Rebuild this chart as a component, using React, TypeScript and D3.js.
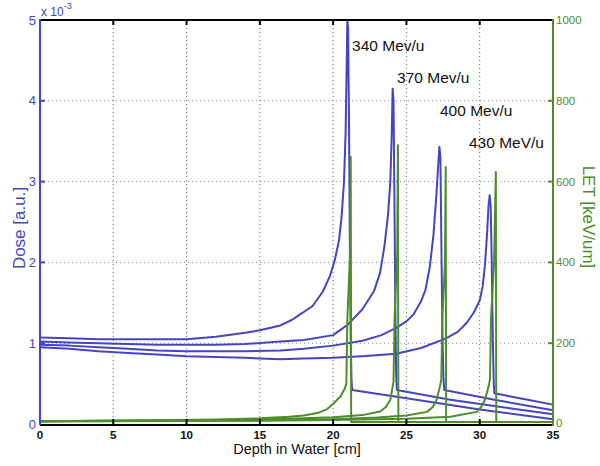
import React from "react";
import * as d3 from "d3";

// ---- data (depth in cm, dose in 1e-3 a.u., LET in keV/um) ----
const depthTicks = [0, 5, 10, 15, 20, 25, 30, 35];
const doseTicks = [0, 1, 2, 3, 4, 5];
const letTicks = [0, 200, 400, 600, 800, 1000];

const dose340: [number, number][] = [
  [0, 1.07], [2, 1.06], [4, 1.05], [6, 1.05], [8, 1.05], [10, 1.05], [12, 1.08], [14, 1.13], [15, 1.16],
  [16.4, 1.22], [17.2, 1.29], [17.7, 1.35], [18.6, 1.46], [19.3, 1.64], [19.8, 1.84], [20.1, 2.02],
  [20.4, 2.27], [20.58, 2.57], [20.74, 3.0], [20.85, 3.6], [20.92, 4.4], [20.97, 5.0], [21.02, 4.9],
  [21.08, 3.8], [21.14, 2.2], [21.2, 1.0], [21.25, 0.55], [21.3, 0.42], [25, 0.32], [30, 0.18], [35, 0.06],
];
const dose370: [number, number][] = [
  [0, 1.02], [2, 1.01], [4, 1.0], [6, 0.99], [8, 0.98], [10, 0.98], [12, 0.98], [14, 0.99], [16.4, 1.02],
  [18, 1.04], [20, 1.1], [21, 1.23], [22, 1.42], [22.8, 1.65], [23.2, 1.87], [23.5, 2.2], [23.75, 2.6],
  [23.9, 3.0], [24.0, 3.6], [24.06, 4.15], [24.12, 4.0], [24.18, 2.8], [24.25, 1.3], [24.3, 0.6],
  [24.35, 0.42], [28, 0.3], [35, 0.12],
];
const dose400: [number, number][] = [
  [0, 0.98], [2, 0.97], [4, 0.95], [6, 0.93], [8, 0.91], [10, 0.9], [12, 0.9], [14, 0.9], [16.4, 0.91],
  [18, 0.93], [20, 0.97], [22, 1.03], [23.3, 1.1], [24.3, 1.19], [25, 1.27], [25.5, 1.36], [26, 1.52],
  [26.3, 1.66], [26.6, 1.95], [26.85, 2.35], [27.05, 2.85], [27.2, 3.3], [27.25, 3.43], [27.32, 3.3],
  [27.38, 2.3], [27.45, 1.2], [27.52, 0.6], [27.58, 0.42], [31, 0.3], [35, 0.17],
];
const dose430: [number, number][] = [
  [0, 0.95], [2, 0.93], [4, 0.9], [6, 0.88], [8, 0.86], [10, 0.84], [12, 0.83], [14, 0.82], [16.4, 0.8],
  [18, 0.81], [20, 0.82], [22, 0.84], [24.3, 0.87], [26, 0.94], [27.7, 1.06], [28.5, 1.14], [29.1, 1.25],
  [29.6, 1.38], [30.0, 1.53], [30.2, 1.7], [30.35, 1.95], [30.5, 2.35], [30.6, 2.7], [30.68, 2.83],
  [30.75, 2.7], [30.82, 2.0], [30.9, 1.0], [30.96, 0.5], [31.0, 0.38], [33, 0.31], [35, 0.24],
];

const let340: [number, number][] = [
  [0, 7], [4, 8], [8, 9], [12, 11], [15, 14], [17, 18], [18, 21], [19, 28], [19.6, 37], [20, 50],
  [20.5, 68], [20.8, 88], [20.9, 100], [20.97, 260], [21.15, 420], [21.2, 661], [21.23, 5], [35, 5],
];
const let370: [number, number][] = [
  [0, 7], [5, 8], [10, 9], [15, 11], [18, 14], [20, 17], [22, 22], [23.2, 31], [23.6, 42], [23.9, 60],
  [24.05, 90], [24.12, 105], [24.19, 260], [24.37, 420], [24.42, 690], [24.45, 5], [35, 5],
];
const let400: [number, number][] = [
  [0, 7], [5, 8], [10, 8], [15, 9], [20, 12], [23, 16], [25, 21], [26.4, 30], [26.8, 42], [27.06, 60],
  [27.3, 95], [27.38, 110], [27.45, 260], [27.63, 400], [27.68, 636], [27.71, 5], [35, 5],
];
const let430: [number, number][] = [
  [0, 6], [5, 7], [10, 8], [15, 8], [20, 10], [25, 13], [28, 18], [29.8, 30], [30.1, 42], [30.36, 60],
  [30.62, 95], [30.7, 110], [30.77, 260], [30.98, 400], [31.1, 624], [31.13, 5], [35, 5],
];

const energyLabels = ["340 Mev/u", "370 Mev/u", "400 Mev/u", "430 MeV/u"];
const labelDepths = [21.29, 24.36, 27.29, 29.27];
const labelDoses = [4.616, 4.22, 3.81, 3.41];

const doseSeries = [dose340, dose370, dose400, dose430];
const letSeries = [let340, let370, let400, let430];

// ---- layout ----
const W = 600;
const H = 466;
const left = 40;
const right = 553;
const top = 20;
const bottom = 424;

const BLUE = "#4545c2";
const GREEN = "#4e8d2c";
const FONT = "'Liberation Sans', Arial, Helvetica, sans-serif";

export default function App() {
  const x = d3.scaleLinear().domain([0, 35]).range([left, right]);
  const yD = d3.scaleLinear().domain([0, 5]).range([bottom, top]);
  const yL = d3.scaleLinear().domain([0, 1000]).range([bottom, top]);

  const doseLine = d3
    .line<[number, number]>()
    .x((d) => x(d[0]))
    .y((d) => yD(d[1]));
  const letLine = d3
    .line<[number, number]>()
    .x((d) => x(d[0]))
    .y((d) => yL(d[1]));

  const tickLen = 5;

  return (
    <svg
      width={W}
      height={H}
      style={{ position: "absolute", left: 0, top: 0, background: "#fff" }}
      fontFamily={FONT}
    >
      <rect x={0} y={0} width={W} height={H} fill="#fff" />
      {/* grid */}
      {depthTicks
        .filter((t) => t > 0 && t < 35)
        .map((t) => (
          <line
            key={"gx" + t}
            x1={x(t)}
            x2={x(t)}
            y1={top}
            y2={bottom}
            stroke="#666"
            strokeWidth={1}
            strokeDasharray="1,3"
          />
        ))}
      {doseTicks
        .filter((t) => t > 0 && t < 5)
        .map((t) => (
          <line
            key={"gy" + t}
            x1={left}
            x2={right}
            y1={yD(t)}
            y2={yD(t)}
            stroke="#8080d6"
            strokeWidth={1}
            strokeDasharray="1,3"
          />
        ))}

      {/* dose curves */}
      {doseSeries.map((s, i) => (
        <path
          key={"d" + i}
          d={doseLine(s) || ""}
          fill="none"
          stroke={BLUE}
          strokeWidth={2}
          strokeLinejoin="round"
        />
      ))}
      {/* LET curves */}
      {letSeries.map((s, i) => (
        <path
          key={"l" + i}
          d={letLine(s) || ""}
          fill="none"
          stroke={GREEN}
          strokeWidth={2}
          strokeLinejoin="round"
        />
      ))}

      {/* axes box */}
      <line x1={left} x2={right} y1={top} y2={top} stroke="#000" strokeWidth={2} />
      <line x1={left} x2={right} y1={bottom + 1} y2={bottom + 1} stroke="#000" strokeWidth={2} />
      <line x1={left} x2={left} y1={top - 1} y2={bottom + 1} stroke={BLUE} strokeWidth={2} />
      <line x1={right} x2={right} y1={top - 1} y2={bottom + 2} stroke={GREEN} strokeWidth={2} />

      {/* x ticks */}
      {depthTicks
        .filter((t) => t > 0 && t < 35)
        .map((t) => (
          <g key={"xt" + t}>
            <line x1={x(t)} x2={x(t)} y1={bottom} y2={bottom - tickLen} stroke="#000" strokeWidth={2} />
            <line x1={x(t)} x2={x(t)} y1={top} y2={top + tickLen} stroke="#000" strokeWidth={2} />
          </g>
        ))}
      {depthTicks.map((t) => (
        <text
          key={"xl" + t}
          x={x(t)}
          y={438.5}
          textAnchor="middle"
          fontSize={11.5}
          fontWeight="bold"
          fill="#111"
        >
          {t}
        </text>
      ))}

      {/* left ticks */}
      {doseTicks
        .filter((t) => t > 0 && t < 5)
        .map((t) => (
          <line key={"lt" + t} x1={left} x2={left + tickLen} y1={yD(t)} y2={yD(t)} stroke={BLUE} strokeWidth={2} />
        ))}
      {doseTicks.map((t) => (
        <text
          key={"ll" + t}
          x={36}
          y={yD(t) + 4.5}
          textAnchor="end"
          fontSize={13}
          fill={BLUE}
        >
          {t}
        </text>
      ))}
      <text x={41} y={16} fontSize={12} fill={BLUE}>
        x 10
        <tspan fontSize={9} dy={-7}>
          -3
        </tspan>
      </text>

      {/* right ticks */}
      {letTicks
        .filter((t) => t > 0 && t < 1000)
        .map((t) => (
          <line key={"rt" + t} x1={right} x2={right - tickLen} y1={yL(t)} y2={yL(t)} stroke={GREEN} strokeWidth={2} />
        ))}
      {letTicks.map((t) => (
        <text key={"rl" + t} x={556} y={yL(t) + (t === 0 ? 2.5 : 4)} fontSize={11.5} fill={GREEN}>
          {t}
        </text>
      ))}

      {/* axis titles */}
      <text x={297} y={454} textAnchor="middle" fontSize={14.5} fill="#111">
        Depth in Water [cm]
      </text>
      <text
        transform={`translate(25,228) rotate(-90)`}
        textAnchor="middle"
        fontSize={17}
        fill={BLUE}
      >
        Dose [a.u.]
      </text>
      <text
        transform={`translate(583,217) rotate(90)`}
        textAnchor="middle"
        fontSize={17}
        fill={GREEN}
      >
        LET [keV/um]
      </text>

      {/* energy labels */}
      {energyLabels.map((lab, i) => (
        <text key={"e" + i} x={x(labelDepths[i])} y={yD(labelDoses[i])} fontSize={15.5} fill="#111">
          {lab}
        </text>
      ))}
    </svg>
  );
}
